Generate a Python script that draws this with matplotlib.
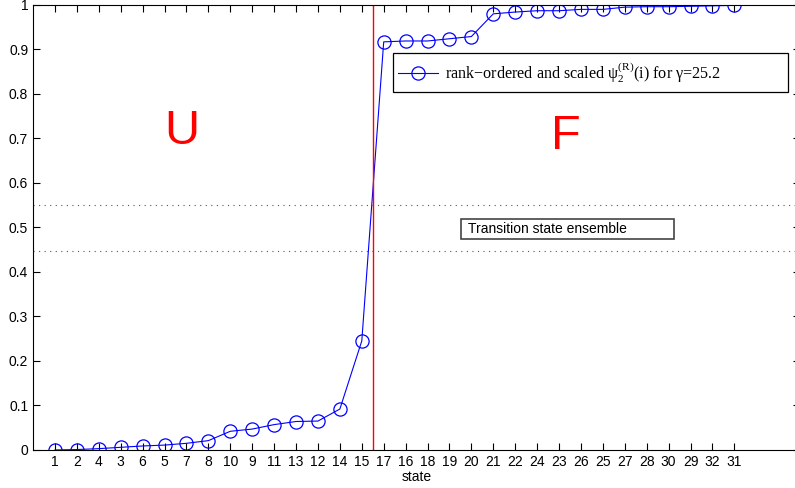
import numpy as np
import matplotlib
matplotlib.use("Agg")
import matplotlib.pyplot as plt
from matplotlib.patches import Rectangle

plt.rcParams['font.family'] = ['Liberation Sans', 'DejaVu Sans']

# state labels in rank order and the scaled psi values
state_labels = ['1', '2', '4', '3', '6', '5', '7', '8', '10', '9', '11', '13', '12', '14', '15', '17',
                '16', '18', '19', '20', '21', '22', '24', '23', '26', '25', '27', '28', '30', '29', '32', '31']
psi_values = [0.0, 0.001, 0.003, 0.006, 0.009, 0.011, 0.015, 0.021, 0.042, 0.047, 0.057, 0.064,
              0.065, 0.092, 0.245, 0.917, 0.919, 0.919, 0.924, 0.929, 0.980, 0.984, 0.987, 0.987,
              0.990, 0.990, 0.995, 0.996, 0.996, 0.997, 0.998, 0.999]
split_x = 15.5
tse_lo = 0.447
tse_hi = 0.55

fig = plt.figure(figsize=(7.95, 4.88), dpi=100)
ax = fig.add_axes([0.0415, 0.0779, 0.965, 0.912])

x = np.arange(1, len(psi_values) + 1)
ax.plot(x, psi_values, '-o', color='blue', lw=0.8, ms=9.5, mfc='none', mew=0.9,
        label=r'rank−ordered and scaled $\mathregular{ψ_2^{(R)}}$(i) for $\mathregular{γ}$=25.2')

ax.axvline(split_x, color='red', lw=1.0)
ax.axhline(tse_hi, color='#555555', ls=(0, (1, 4)), lw=0.8)
ax.axhline(tse_lo, color='#555555', ls=(0, (1, 4)), lw=0.8)

ax.text(6.8, 0.715, 'U', color='red', fontsize=35, ha='center', va='center')
ax.text(24.3, 0.705, 'F', color='red', fontsize=35, ha='center', va='center')

# text box for the transition state band
ax.add_patch(Rectangle((19.53, 0.474), 9.72, 0.045, fc='white', ec='#444444', lw=1.2, zorder=3))
ax.text(19.85, 0.4965, 'Transition state ensemble', fontsize=10, ha='left', va='center', zorder=4)

ax.set_xlim(0, 35)
ax.set_ylim(0, 1)
ax.set_xticks(x)
ax.set_xticklabels(state_labels)
ax.set_yticks(np.arange(0, 1.01, 0.1))
ax.set_yticklabels(['0', '0.1', '0.2', '0.3', '0.4', '0.5', '0.6', '0.7', '0.8', '0.9', '1'])
ax.tick_params(direction='in', top=True, right=True, labelsize=10, length=5, width=0.8)
ax.set_xlabel('state', fontsize=10, labelpad=1)

# legend frame drawn by hand, MATLAB style with trailing space
ax.add_patch(Rectangle((0.4694, 0.8045), 0.515, 0.0875, transform=ax.transAxes,
                       fc='white', ec='black', lw=0.9, zorder=5))
leg = ax.legend(loc='center left', bbox_to_anchor=(0.4694, 0.848), frameon=False,
                prop={'family': 'Liberation Serif', 'size': 11.6},
                handlelength=2.5, handletextpad=0.45, borderpad=0.0, borderaxespad=0.3)
leg.set_zorder(6)

fig.savefig('out.png', dpi=100)
